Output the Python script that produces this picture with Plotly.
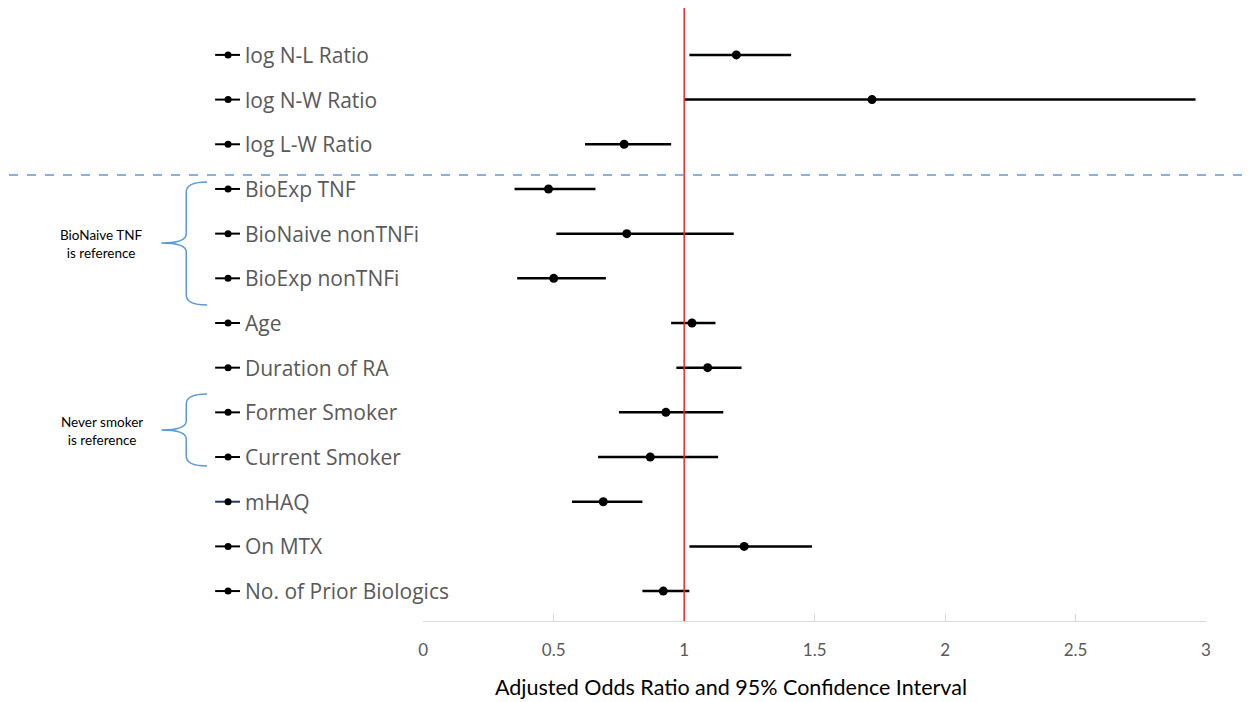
import plotly.graph_objects as go

labels = ["log N-L Ratio", "log N-W Ratio", "log L-W Ratio", "BioExp TNF", "BioNaive nonTNFi",
          "BioExp nonTNFi", "Age", "Duration of RA", "Former Smoker", "Current Smoker",
          "mHAQ", "On MTX", "No. of Prior Biologics"]
odds_ratio = [1.20, 1.72, 0.77, 0.48, 0.78, 0.50, 1.03, 1.09, 0.93, 0.87, 0.69, 1.23, 0.92]
ci_low = [1.02, 1.00, 0.62, 0.35, 0.51, 0.36, 0.95, 0.97, 0.75, 0.67, 0.57, 1.02, 0.84]
ci_high = [1.41, 2.96, 0.95, 0.66, 1.19, 0.70, 1.12, 1.22, 1.15, 1.13, 0.84, 1.49, 1.02]
x_ticks = [0, 0.5, 1, 1.5, 2, 2.5, 3]
x_tick_text = ["0", "0.5", "1", "1.5", "2", "2.5", "3"]
groups = [("BioNaive TNF<br>is reference", "BioExp TNF", "BioExp nonTNFi"),
          ("Never smoker<br>is reference", "Former Smoker", "Current Smoker")]
reference_value = 1

FONT = "Lato, 'Open Sans', sans-serif"
LABEL_FONT = "'Open Sans', sans-serif"
W, H = 1250, 702
ML, MR, MT, MB = 0, 44, 8, 81
PW = W - ML - MR
PH = H - MT - MB
DX = -4  # horizontal nudge for left-side decorations


def px_x(px):
    return (px + DX) / PW


def px_y(py):
    return (H - MB - py) / PH


fig = go.Figure()

# legend-style glyphs beside labels (on a pixel-like helper axis)
gx, gy = [], []
for lab in labels:
    if lab == "mHAQ":
        continue
    gx += [215 + DX, 240 + DX, None]
    gy += [lab, lab, None]
fig.add_trace(go.Scatter(x=gx, y=gy, mode="lines", line=dict(color="black", width=2),
                         xaxis="x2", showlegend=False, hoverinfo="skip"))
fig.add_trace(go.Scatter(x=[215 + DX, 240 + DX], y=["mHAQ", "mHAQ"], mode="lines",
                         line=dict(color="#203864", width=2),
                         xaxis="x2", showlegend=False, hoverinfo="skip"))
fig.add_trace(go.Scatter(x=[228 + DX] * len(labels), y=labels, mode="markers",
                         marker=dict(color="black", size=7),
                         xaxis="x2", showlegend=False, hoverinfo="skip"))

fig.add_trace(go.Scatter(
    x=odds_ratio, y=labels, mode="markers",
    marker=dict(color="black", size=9),
    error_x=dict(type="data", symmetric=False,
                 array=[h - o for h, o in zip(ci_high, odds_ratio)],
                 arrayminus=[o - l for l, o in zip(ci_low, odds_ratio)],
                 color="black", thickness=2.5, width=0),
    showlegend=False, hoverinfo="x+y",
))

annotations = []
for lab in labels:
    annotations.append(dict(xref="x2", yref="y", x=243 + DX, y=lab, text=lab, showarrow=False,
                            xanchor="left", yanchor="middle",
                            font=dict(family=LABEL_FONT, size=21, color="#595959")))

shapes = []
# reference line
shapes.append(dict(type="line", xref="x", yref="paper", x0=reference_value, x1=reference_value,
                   y0=0, y1=1, line=dict(color="#E8282B", width=1.5)))
# dashed separator
sep = labels.index("log L-W Ratio") + 0.69
shapes.append(dict(type="line", xref="paper", yref="y", x0=px_x(8), x1=px_x(1260),
                   y0=sep, y1=sep, line=dict(color="#5B9BD5", width=1.5, dash="dash")))

# braces
brace_pos = [(182, 243, 305), (394, 430, 466)]
for (text, a, b), (top, mid, bot) in zip(groups, brace_pos):
    tip, spine, point = 207, 186, 161
    path = (f"M {px_x(tip)},{px_y(top)} "
            f"Q {px_x(spine)},{px_y(top)} {px_x(spine)},{px_y(top + 10)} "
            f"L {px_x(spine)},{px_y(mid - 9)} "
            f"Q {px_x(spine)},{px_y(mid)} {px_x(point)},{px_y(mid)} "
            f"Q {px_x(spine)},{px_y(mid)} {px_x(spine)},{px_y(mid + 9)} "
            f"L {px_x(spine)},{px_y(bot - 10)} "
            f"Q {px_x(spine)},{px_y(bot)} {px_x(tip)},{px_y(bot)}")
    shapes.append(dict(type="path", xref="paper", yref="paper", path=path,
                       line=dict(color="#5B9BD5", width=1.5)))
    annotations.append(dict(xref="paper", yref="paper", x=px_x(101), y=px_y(mid + 1), text=text,
                            showarrow=False, xanchor="center", yanchor="middle", align="center",
                            font=dict(family=FONT, size=13.5, color="black")))

annotations.append(dict(xref="paper", yref="paper", x=px_x(733), y=px_y(687),
                        text="Adjusted Odds Ratio and 95% Confidence Interval",
                        showarrow=False, xanchor="center", yanchor="middle", borderpad=0,
                        font=dict(family=FONT, size=21.5, color="black")))

n = len(labels)
fig.update_layout(
    width=W, height=H,
    margin=dict(l=ML, r=MR, t=MT, b=MB),
    paper_bgcolor="white", plot_bgcolor="rgba(0,0,0,0)",
    font=dict(family=FONT),
    xaxis=dict(domain=[px_x(424), 1], range=[0, 3], tickvals=x_ticks, ticktext=x_tick_text,
               showgrid=False, zeroline=False, showline=True, linecolor="#D9D9D9", linewidth=1,
               ticks="inside", ticklen=7, tickcolor="#D9D9D9",
               tickfont=dict(family=FONT, size=17, color="#595959"),
               ticklabelstandoff=14, fixedrange=True),
    xaxis2=dict(domain=[0, 1], range=[0, PW], visible=False, anchor="y", fixedrange=True),
    yaxis=dict(type="category", categoryorder="array", categoryarray=labels,
               range=[n - 1 + 0.67, -1.05], showticklabels=False, showgrid=False,
               zeroline=False, showline=False, fixedrange=True),
    shapes=shapes, annotations=annotations,
)

fig.write_html("out.html", config={"displayModeBar": False},
               post_script="document.body.style.margin='0';document.body.style.overflow='hidden';")
